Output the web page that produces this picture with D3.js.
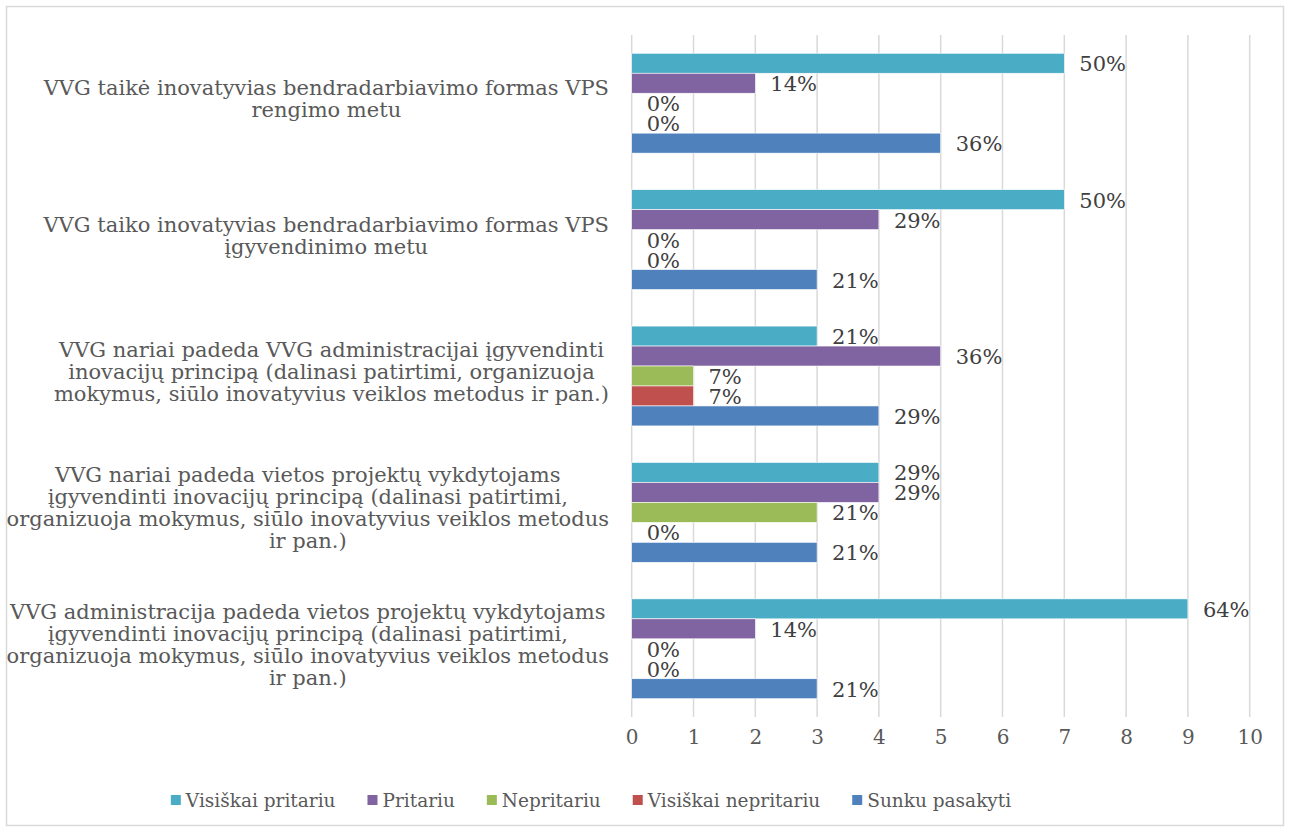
<!DOCTYPE html>
<html>
<head>
<meta charset="utf-8">
<script src="https://cdn.jsdelivr.net/npm/d3@7"></script>
<style>
  body { margin: 0; background: #fff; }
  svg { display: block; }
</style>
</head>
<body>
<svg id="chart"></svg>
<script>
// categories, one entry per line of the wrapped label
const categories = [
  ["VVG taikė inovatyvias bendradarbiavimo formas VPS", "rengimo metu"],
  ["VVG taiko inovatyvias bendradarbiavimo formas VPS", "įgyvendinimo metu"],
  ["VVG nariai padeda VVG administracijai įgyvendinti", "inovacijų principą (dalinasi patirtimi, organizuoja", "mokymus, siūlo inovatyvius veiklos metodus ir pan.)"],
  ["VVG nariai padeda vietos projektų vykdytojams", "įgyvendinti inovacijų principą (dalinasi patirtimi,", "organizuoja mokymus, siūlo inovatyvius veiklos metodus", "ir pan.)"],
  ["VVG administracija padeda vietos projektų vykdytojams", "įgyvendinti inovacijų principą (dalinasi patirtimi,", "organizuoja mokymus, siūlo inovatyvius veiklos metodus", "ir pan.)"]
];

const seriesNames = ["Visiškai pritariu", "Pritariu", "Nepritariu", "Visiškai nepritariu", "Sunku pasakyti"];
const seriesColors = ["#4bacc6", "#8064a2", "#9bbb59", "#c0504d", "#4f81bd"];

// counts per category
const visiskaiPritariu = [7, 7, 3, 4, 9];
const pritariu = [2, 4, 5, 4, 2];
const nepritariu = [0, 0, 1, 3, 0];
const visiskaiNepritariu = [0, 0, 1, 0, 0];
const sunkuPasakyti = [5, 3, 4, 3, 3];

// data labels as shown
const visiskaiPritariuPct = ["50%", "50%", "21%", "29%", "64%"];
const pritariuPct = ["14%", "29%", "36%", "29%", "14%"];
const nepritariuPct = ["0%", "0%", "7%", "21%", "0%"];
const visiskaiNepritariuPct = ["0%", "0%", "7%", "0%", "0%"];
const sunkuPasakytiPct = ["36%", "21%", "29%", "21%", "21%"];

const xTicks = [0, 1, 2, 3, 4, 5, 6, 7, 8, 9, 10];

const values = [visiskaiPritariu, pritariu, nepritariu, visiskaiNepritariu, sunkuPasakyti];
const labels = [visiskaiPritariuPct, pritariuPct, nepritariuPct, visiskaiNepritariuPct, sunkuPasakytiPct];

const width = 1290, height = 832;
const font = "'DejaVu Serif', 'Liberation Serif', serif";

const svg = d3.select("#chart").attr("width", width).attr("height", height);

svg.append("rect")
  .attr("x", 6.5).attr("y", 6.5)
  .attr("width", width - 13).attr("height", height - 13)
  .attr("fill", "#fff").attr("stroke", "#d9d9d9").attr("stroke-width", 1.5);

const plot = { left: 631.7, right: 1249.7, top: 35, bottom: 717 };

const x = d3.scaleLinear().domain([0, 10]).range([plot.left, plot.right]);
const y = d3.scaleBand()
  .domain(d3.range(categories.length))
  .range([plot.top, plot.bottom])
  .paddingInner(0.268).paddingOuter(0.134);
const ys = d3.scaleBand()
  .domain(d3.range(seriesNames.length))
  .range([0, y.bandwidth()]);

// gridlines
svg.append("g")
  .selectAll("line")
  .data(xTicks)
  .join("line")
  .attr("x1", (d) => x(d)).attr("x2", (d) => x(d))
  .attr("y1", plot.top).attr("y2", plot.bottom)
  .attr("stroke", "#d9d9d9").attr("stroke-width", 1.5);

// x axis labels
const xAxis = svg.append("g")
  .attr("transform", `translate(0, ${plot.bottom + 20})`)
  .call(d3.axisBottom(x).tickValues(xTicks).tickSize(0).tickPadding(0).tickFormat(d3.format("d")));
xAxis.select(".domain").remove();
xAxis.selectAll("text")
  .attr("font-family", font).attr("font-size", 20)
  .attr("fill", "#595959").attr("dy", null)
  .attr("dominant-baseline", "central");

// bars
const groups = svg.append("g")
  .selectAll("g")
  .data(categories)
  .join("g")
  .attr("transform", (d, i) => `translate(0, ${y(i)})`);

groups.each(function (cat, ci) {
  const g = d3.select(this);
  seriesNames.forEach((s, si) => {
    const v = values[si][ci];
    if (v > 0) {
      g.append("rect")
        .attr("x", x(0))
        .attr("y", ys(si))
        .attr("width", x(v) - x(0))
        .attr("height", ys.bandwidth())
        .attr("fill", seriesColors[si])
        .attr("stroke", "#fff").attr("stroke-width", 0.6);
    }
    g.append("text")
      .attr("x", x(v) + 15)
      .attr("y", ys(si) + ys.bandwidth() / 2 + 1)
      .attr("dominant-baseline", "central")
      .attr("font-family", font).attr("font-size", 21)
      .attr("fill", "#404040")
      .text(labels[si][ci]);
  });
});

// category labels, lines centred in a block right-aligned to the axis
const labelRight = 609;
const lineH = 22;
categories.forEach((lines, ci) => {
  const g = svg.append("g");
  const texts = lines.map((line) => g.append("text")
    .attr("font-family", font).attr("font-size", 21)
    .attr("fill", "#595959")
    .attr("text-anchor", "middle")
    .attr("dominant-baseline", "central")
    .text(line));
  const maxW = d3.max(texts, (t) => t.node().getComputedTextLength());
  const cx = labelRight - maxW / 2;
  const cy = y(ci) + y.bandwidth() / 2 - 4;
  texts.forEach((t, li) => {
    t.attr("x", cx).attr("y", cy + (li - (lines.length - 1) / 2) * lineH);
  });
});

// legend
const legend = svg.append("g");
const items = seriesNames.map((name, i) => {
  const it = legend.append("g");
  it.append("rect")
    .attr("width", 10).attr("height", 10)
    .attr("y", -5)
    .attr("fill", seriesColors[i]);
  const t = it.append("text")
    .attr("x", 15)
    .attr("dominant-baseline", "central")
    .attr("font-family", font).attr("font-size", 18.5)
    .attr("fill", "#595959")
    .text(name);
  return { it, w: 15 + t.node().getComputedTextLength() };
});
const gap = 32;
const span = d3.sum(items, (d) => d.w) + gap * (items.length - 1);
let lx = 591 - span / 2;
items.forEach((d) => {
  d.it.attr("transform", `translate(${lx}, 800)`);
  lx += d.w + gap;
});
</script>
</body>
</html>
